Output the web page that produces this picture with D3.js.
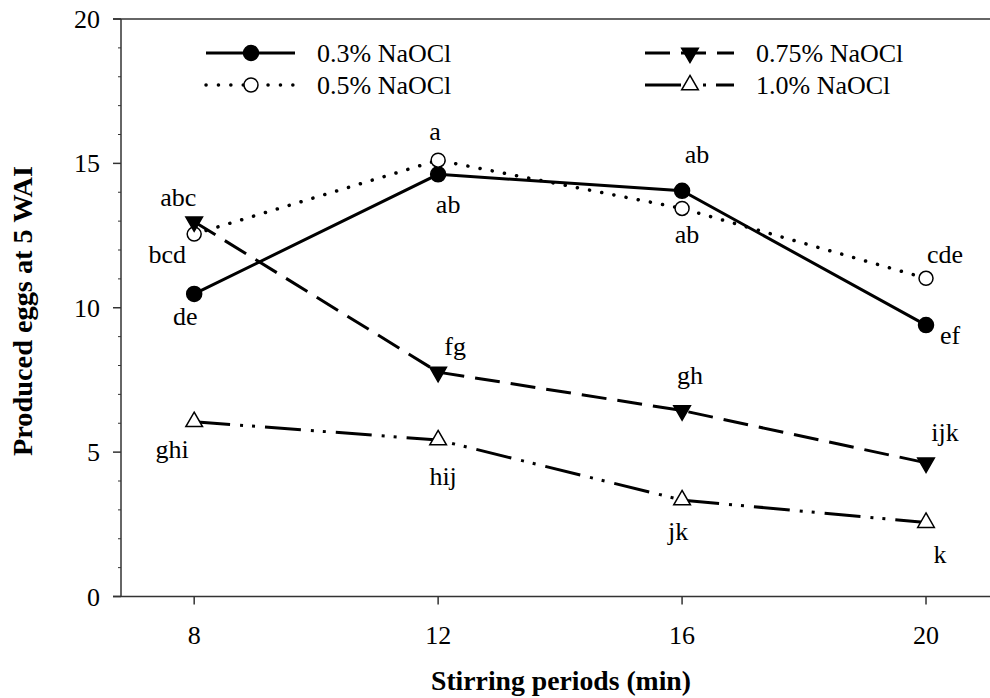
<!DOCTYPE html>
<html>
<head>
<meta charset="utf-8">
<script src="https://cdn.jsdelivr.net/npm/d3@7"></script>
<style>
body { margin: 0; background: #fff; }
.axisline { stroke: #333; stroke-width: 1.5; fill: none; }
</style>
</head>
<body>
<div id="chart"></div>
<script>
// data
var periods = [8, 12, 16, 20];
var xTicks = [8, 12, 16, 20];
var yTicks = [0, 5, 10, 15, 20];

var naocl03 = [10.48, 14.62, 14.05, 9.40];
var naocl05 = [12.55, 15.11, 13.44, 11.02];
var naocl075 = [12.98, 7.77, 6.44, 4.63];
var naocl10 = [6.05, 5.42, 3.34, 2.56];

var letters03 = ["de", "ab", "ab", "ef"];
var letters05 = ["bcd", "a", "ab", "cde"];
var letters075 = ["abc", "fg", "gh", "ijk"];
var letters10 = ["ghi", "hij", "jk", "k"];

var seriesNames = ["0.3% NaOCl", "0.5% NaOCl", "0.75% NaOCl", "1.0% NaOCl"];

// label offsets (pixels from the marker), layout only
var labelOffsets = [
  [[-9, 23], [10, 31], [15, -36], [24, 11]],
  [[-27, 21], [-3, -28], [5, 27], [19, -23]],
  [[-16, -24], [17, -25], [8, -35], [19, -30]],
  [[-22, 28], [5, 37], [-4, 32], [14, 32]]
];

var FONT = '"Liberation Serif", "Times New Roman", Times, "DejaVu Serif", serif';

var W = 990, H = 698;
var svg = d3.select('#chart').append('svg')
  .attr('width', W)
  .attr('height', H)
  .attr('font-family', FONT);

var x = d3.scaleLinear().domain([6.8, 21]).range([121, 987]);
var y = d3.scaleLinear().domain([0, 20]).range([596.5, 19]);

//line styles per series
var styles = [
  {dash: null, marker: 'circle', fill: '#000', cap: 'butt'},
  {dash: '0.1,12.3', marker: 'circle', fill: '#fff', cap: 'round'},
  {dash: '25,11', marker: 'down', fill: '#000', cap: 'butt'},
  {dash: '36,10,3,9,3,10', marker: 'up', fill: '#fff', cap: 'butt'}
];

var allSeries = [naocl03, naocl05, naocl075, naocl10];
var allLetters = [letters03, letters05, letters075, letters10];

function addText(sel) {
  return sel.append('text').attr('font-family', FONT).style('fill', '#000');
}

// frame: x axis, top line, y axis
svg.append('line').attr('class', 'axisline')
  .attr('x1', 113).attr('x2', 990).attr('y1', y(0)).attr('y2', y(0));
svg.append('line').attr('class', 'axisline')
  .attr('x1', 113).attr('x2', 990).attr('y1', y(20)).attr('y2', y(20));
svg.append('line').attr('class', 'axisline')
  .attr('x1', x(6.8)).attr('x2', x(6.8)).attr('y1', y(0)).attr('y2', y(20));

// y ticks
svg.selectAll('.ytick').data(yTicks).enter().append('line')
  .attr('class', 'axisline')
  .attr('x1', x(6.8) - 8).attr('x2', x(6.8))
  .attr('y1', function(d){ return y(d); })
  .attr('y2', function(d){ return y(d); });

svg.selectAll('.yminor').data(d3.range(0, 21).filter(function(d){ return d % 5 != 0; }))
  .enter().append('line')
  .attr('class', 'axisline')
  .style('stroke-width', 1)
  .attr('x1', x(6.8) - 3).attr('x2', x(6.8))
  .attr('y1', function(d){ return y(d); })
  .attr('y2', function(d){ return y(d); });

svg.selectAll('.ylab').data(yTicks).enter().append('text')
  .attr('font-family', FONT)
  .attr('x', 100)
  .attr('y', function(d){ return y(d) + 9; })
  .attr('text-anchor', 'end')
  .style('font-size', '26px')
  .text(function(d){ return d; });

// x ticks
svg.selectAll('.xtick').data(xTicks).enter().append('line')
  .attr('class', 'axisline')
  .attr('x1', function(d){ return x(d); })
  .attr('x2', function(d){ return x(d); })
  .attr('y1', y(0)).attr('y2', y(0) + 8);

svg.selectAll('.xlab').data(xTicks).enter().append('text')
  .attr('font-family', FONT)
  .attr('x', function(d){ return x(d); })
  .attr('y', 644)
  .attr('text-anchor', 'middle')
  .style('font-size', '26px')
  .text(function(d){ return d; });

// axis titles
addText(svg)
  .attr('x', 561).attr('y', 690)
  .attr('text-anchor', 'middle')
  .attr('textLength', 260).attr('lengthAdjust', 'spacingAndGlyphs')
  .style('font-size', '28px').style('font-weight', 'bold')
  .text('Stirring periods (min)');

addText(svg)
  .attr('transform', 'translate(32,311) rotate(-90)')
  .attr('text-anchor', 'middle')
  .attr('textLength', 290).attr('lengthAdjust', 'spacingAndGlyphs')
  .style('font-size', '28px').style('font-weight', 'bold')
  .text('Produced eggs at 5 WAI');

function drawMarker(g, kind, fill, cx, cy) {
  if (kind == 'circle') {
    g.append('circle').attr('cx', cx).attr('cy', cy)
      .attr('r', fill == '#000' ? 7.5 : 7)
      .style('fill', fill).style('stroke', '#000').style('stroke-width', 1.5);
  } else {
    var sym = d3.symbol().type(d3.symbolTriangle).size(120);
    g.append('path').attr('d', sym)
      .attr('transform', 'translate(' + cx + ',' + cy + ')' + (kind == 'down' ? ' rotate(180)' : ''))
      .style('fill', fill).style('stroke', '#000').style('stroke-width', 1.5);
  }
}

var line = d3.line()
  .x(function(d, i){ return x(periods[i]); })
  .y(function(d){ return y(d); });

// lines first, then markers on top
allSeries.forEach(function(vals, s){
  svg.append('path')
    .datum(vals)
    .attr('d', line)
    .style('fill', 'none')
    .style('stroke', '#000')
    .style('stroke-width', s == 1 ? 3.5 : 3)
    .style('stroke-linecap', styles[s].cap)
    .style('stroke-dasharray', styles[s].dash);
});

allSeries.forEach(function(vals, s){
  var g = svg.append('g');
  vals.forEach(function(v, i){
    drawMarker(g, styles[s].marker, styles[s].fill, x(periods[i]), y(v));
  });
  g.selectAll('text').data(allLetters[s]).enter().append('text')
    .attr('font-family', FONT)
    .attr('x', function(d, i){ return x(periods[i]) + labelOffsets[s][i][0]; })
    .attr('y', function(d, i){ return y(vals[i]) + labelOffsets[s][i][1] + 8; })
    .attr('text-anchor', 'middle')
    .style('font-size', '26px')
    .text(function(d){ return d; });
});

// legend
var legendPos = [[206, 53], [206, 85], [645, 53], [645, 85]];
seriesNames.forEach(function(name, s){
  var lx = legendPos[s][0], ly = legendPos[s][1];
  var g = svg.append('g');
  g.append('line')
    .attr('x1', lx).attr('x2', lx + 89).attr('y1', ly).attr('y2', ly)
    .style('stroke', '#000')
    .style('stroke-width', s == 1 ? 3.5 : 3)
    .style('stroke-linecap', styles[s].cap)
    .style('stroke-dasharray', styles[s].dash);
  drawMarker(g, styles[s].marker, styles[s].fill, lx + 45, ly);
  addText(g)
    .attr('x', lx + 111).attr('y', ly + 9)
    .style('font-size', '26px')
    .text(name);
});
</script>
</body>
</html>
